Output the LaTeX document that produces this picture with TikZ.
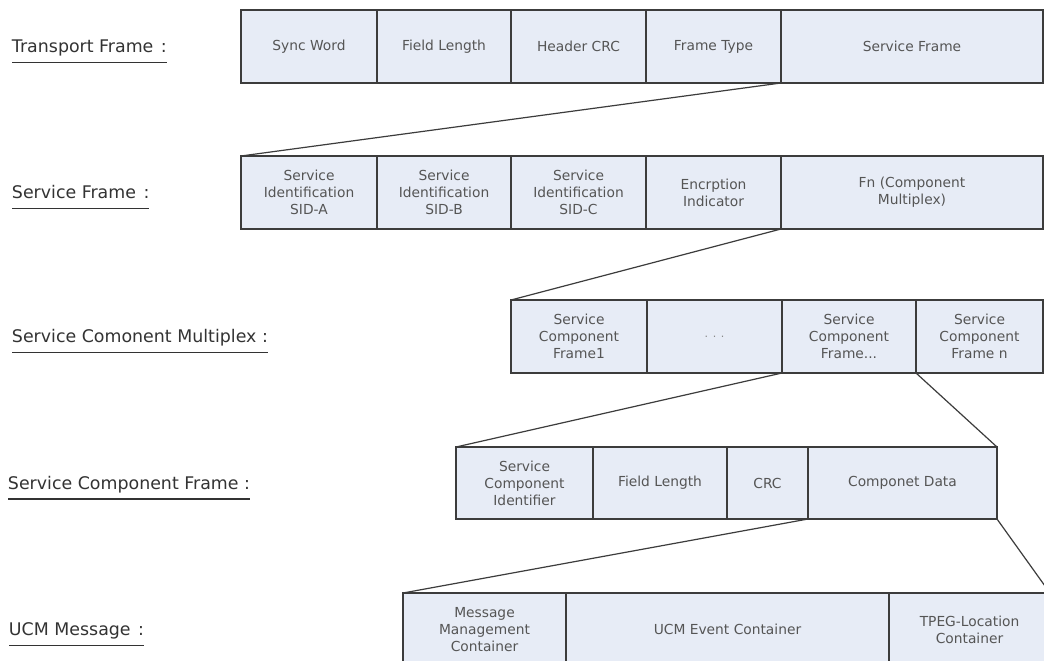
\documentclass[tikz,border=0pt]{standalone}
\usepackage{fontspec}
\setmainfont{DejaVu Sans}
\definecolor{cellfill}{HTML}{E7ECF6}
\definecolor{cellline}{HTML}{3C3C3C}
\definecolor{celltext}{HTML}{555555}
\definecolor{lbltext}{HTML}{333333}
\tikzset{
  cellbox/.style={draw=cellline, line width=1.3pt, fill=cellfill, inner sep=0pt, outer sep=0pt,
    align=center, text=celltext, font=\fontsize{13.8}{17}\selectfont},
  lbl/.style={anchor=base west, inner sep=0pt, outer sep=0pt, text=lbltext, font=\fontsize{17.4}{20}\selectfont},
  uline/.style={draw=lbltext, line width=1.2pt},
  conn/.style={draw=cellline, line width=1.2pt}
}
% \mycell{name}{x1}{x2}{ycenter}{height}{text}
\newcommand\mycell[6]{%
  \node[cellbox, minimum width={#3pt-#2pt}, minimum height=#5pt] (#1) at ({(#2+#3)/2},#4) {#6};}
\newcommand\mylabel[4]{%
  \node[lbl] (#1) at (#2,#3) {#4};
  \draw[uline] ([yshift=-10pt]#1.base west) -- ([yshift=-10pt]#1.base east);}
\begin{document}
\begin{tikzpicture}[x=1pt,y=-1pt]
\clip (0,0) rectangle (1044,661);
\fill[white] (0,0) rectangle (1044,661);
% Row 1
\mycell{ra}{241}{377}{46.5}{73}{Sync Word}
\mycell{rb}{377}{511}{46.5}{73}{Field Length}
\mycell{rc}{511}{646}{46.5}{73}{Header CRC}
\mycell{rd}{646}{781}{46.5}{73}{Frame Type}
\mycell{re}{781}{1043}{46.5}{73}{Service Frame}
% Row 2
\mycell{sa}{241}{377}{192.5}{73}{Service\\Identification\\SID-A}
\mycell{sb}{377}{511}{192.5}{73}{Service\\Identification\\SID-B}
\mycell{sc}{511}{646}{192.5}{73}{Service\\Identification\\SID-C}
\mycell{sd}{646}{781}{192.5}{73}{Encrption\\Indicator}
\mycell{se}{781}{1043}{192.5}{73}{Fn (Component\\Multiplex)}
% Row 3
\mycell{ma}{511}{647}{336.5}{73}{Service\\Component\\Frame1}
\mycell{mb}{647}{782}{336.5}{73}{{\color{celltext!70}\fontsize{11}{13}\selectfont. . .}}
\mycell{mc}{782}{916}{336.5}{73}{Service\\Component\\Frame...}
\mycell{md}{916}{1043}{336.5}{73}{Service\\Component\\Frame n}
% Row 4
\mycell{fa}{456}{593}{483}{72}{Service\\Component\\Identifier}
\mycell{fb}{593}{727}{483}{72}{Field Length}
\mycell{fc}{727}{808}{483}{72}{CRC}
\mycell{fd}{808}{997}{483}{72}{Componet Data}
% Row 5
\mycell{ua}{403}{566}{629.5}{73}{Message\\Management\\Container}
\mycell{ub}{566}{889}{629.5}{73}{UCM Event Container}
\mycell{uc}{889}{1050}{629.5}{73}{TPEG-Location\\Container}
% connectors
\draw[conn] (re.south west) -- (sa.north west);
\draw[conn] (se.south west) -- (ma.north west);
\draw[conn] (mc.south west) -- (fa.north west);
\draw[conn] (mc.south east) -- (fd.north east);
\draw[conn] (fd.south west) -- (ua.north west);
\draw[conn] (fd.south east) -- (uc.north east);
% labels
\mylabel{l1}{12}{52.5}{Transport Frame\ \hspace{2pt}:}
\mylabel{l2}{12}{198.5}{Service Frame\ \hspace{2pt}:}
\mylabel{l3}{12}{342.5}{Service Comonent Multiplex :}
\mylabel{l4}{8}{489}{Service Component Frame :}
\mylabel{l5}{9}{635.5}{UCM Message\ \hspace{2pt}:}
\end{tikzpicture}
\end{document}
